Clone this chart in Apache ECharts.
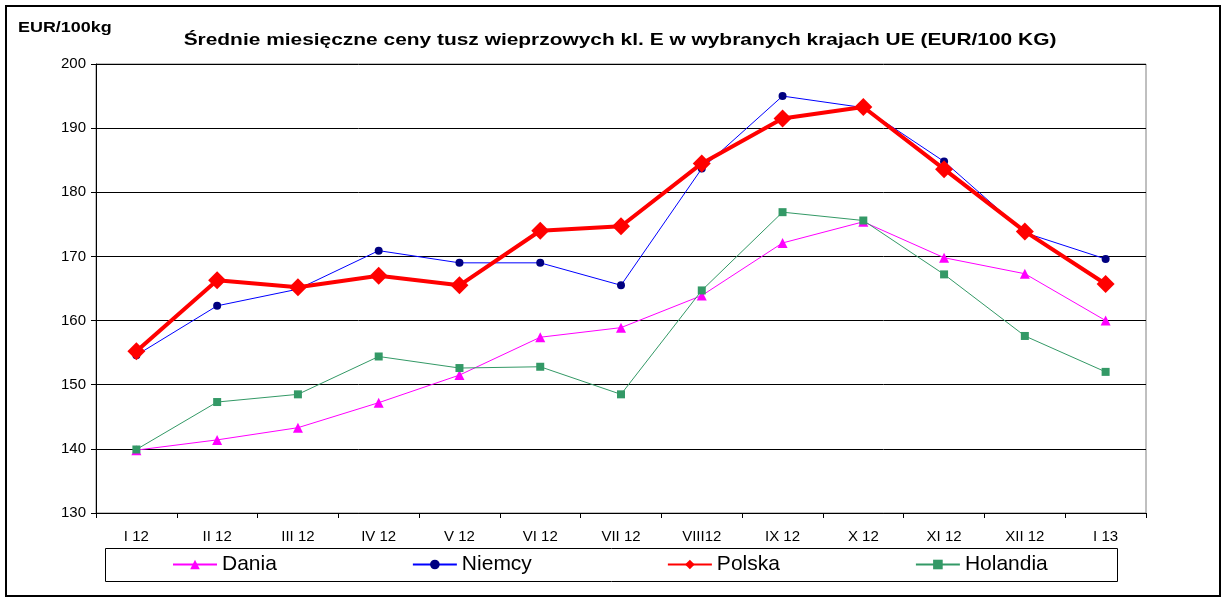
<!DOCTYPE html>
<html><head><meta charset="utf-8">
<script src="https://cdn.jsdelivr.net/npm/echarts@6/dist/echarts.min.js"></script>
<style>html,body{margin:0;padding:0;background:#fff}#c{width:1225px;height:598px}</style>
</head><body><div id="c"></div>
<script>
const categories = ['I 12','II 12','III 12','IV 12','V 12','VI 12','VII 12','VIII12','IX 12','X 12','XI 12','XII 12','I 13'];
const dania    = [139.8,141.4,143.3,147.2,151.5,157.4,158.9,163.9,172.1,175.4,169.8,167.3,160.0];
const niemcy   = [154.6,162.3,164.9,170.9,169.0,169.0,165.5,183.7,195.0,193.2,184.8,173.7,169.6];
const polska   = [155.2,166.3,165.2,167.0,165.5,174.0,174.7,184.5,191.5,193.3,183.6,173.9,165.7];
const holandia = [139.9,147.3,148.5,154.4,152.6,152.8,148.5,164.7,176.9,175.6,167.2,157.6,152.0];
const yTicks = {min:130, max:200, interval:10};
const titleText = 'Średnie miesięczne ceny tusz wieprzowych kl. E w wybranych krajach UE (EUR/100 KG)';
const unitText = 'EUR/100kg';

const chart = echarts.init(document.getElementById('c'), null, {renderer:'canvas'});
const font = '"Liberation Sans", Arial, sans-serif';
chart.setOption({
  animation:false,
  backgroundColor:'#fff',
  textStyle:{fontFamily:font},
  graphic:[
    {type:'rect',shape:{x:6,y:6,width:1214,height:590},style:{fill:null,stroke:'#000',lineWidth:2},silent:true},
    {type:'rect',shape:{x:105.5,y:548.5,width:1012,height:33},style:{fill:null,stroke:'#000',lineWidth:1},silent:true},
    {type:'text',x:18,y:28.5,scaleX:1.28,silent:true,
      style:{text:unitText,font:'bold 14px '+font,fill:'#000',textAlign:'left',textVerticalAlign:'middle'}},
    {type:'text',x:620,y:40,scaleX:1.23,silent:true,
      style:{text:titleText,font:'bold 17px '+font,fill:'#000',textAlign:'center',textVerticalAlign:'middle'}}
  ],
  legend:{left:172,top:554,itemGap:135,itemWidth:44,itemHeight:12,padding:0,
    textStyle:{fontSize:21,color:'#000',fontFamily:font},
    data:['Dania','Niemcy','Polska','Holandia']},
  grid:{left:96,top:64,right:79,bottom:85,show:true,borderColor:'#808080',borderWidth:1},
  xAxis:{type:'category',data:categories,boundaryGap:true,
    axisLine:{lineStyle:{color:'#000',width:1}},
    axisTick:{show:true,inside:false,length:5,alignWithLabel:false,lineStyle:{color:'#000'}},
    axisLabel:{fontSize:15,color:'#000',margin:16,interval:0,fontFamily:font},
    splitLine:{show:false}},
  yAxis:{type:'value',min:yTicks.min,max:yTicks.max,interval:yTicks.interval,
    axisLine:{show:true,lineStyle:{color:'#000',width:1}},
    axisTick:{show:true,length:5,lineStyle:{color:'#000'}},
    axisLabel:{fontSize:15,color:'#000',margin:10,fontFamily:font},
    splitLine:{show:true,lineStyle:{color:'#000',width:1}}},
  series:[
    {name:'Dania',type:'line',data:dania,symbol:'triangle',symbolSize:10,
      lineStyle:{color:'#FF00FF',width:1},itemStyle:{color:'#FF00FF'},z:2},
    {name:'Niemcy',type:'line',data:niemcy,symbol:'circle',symbolSize:8,
      lineStyle:{color:'#0000FF',width:1},itemStyle:{color:'#000080'},z:3},
    {name:'Polska',type:'line',data:polska,symbol:'diamond',symbolSize:18,
      lineStyle:{color:'#FF0000',width:4},itemStyle:{color:'#FF0000'},z:4},
    {name:'Holandia',type:'line',data:holandia,symbol:'rect',symbolSize:8,
      lineStyle:{color:'#339966',width:1},itemStyle:{color:'#339966'},z:2}
  ]
});
</script></body></html>
